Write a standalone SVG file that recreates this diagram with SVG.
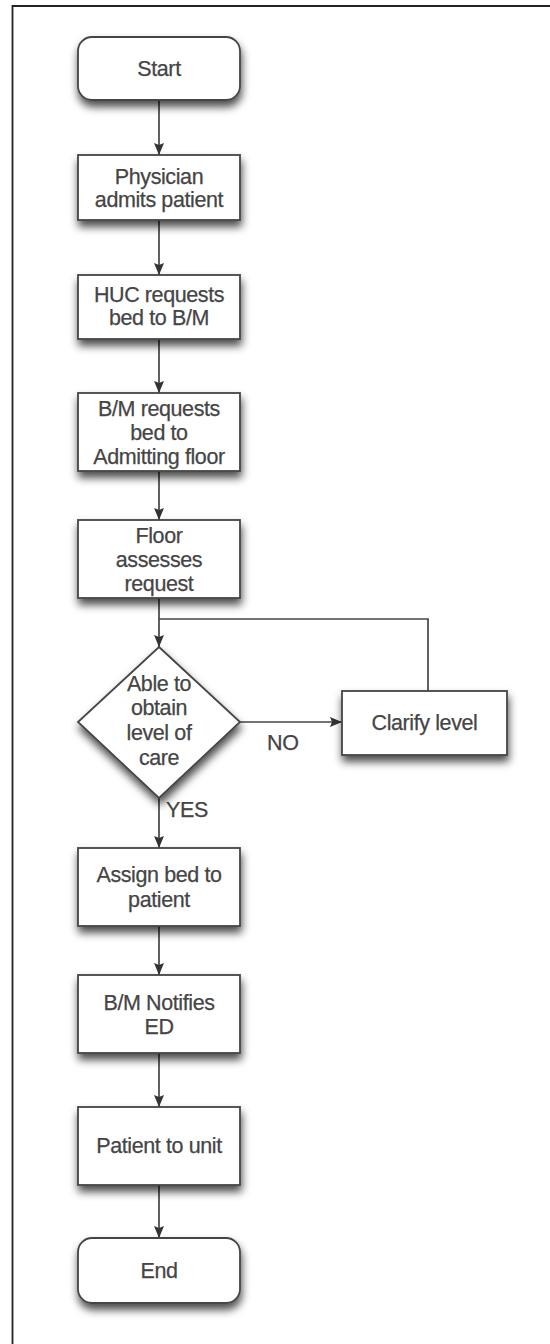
<svg xmlns="http://www.w3.org/2000/svg" width="550" height="1344" viewBox="0 0 550 1344">
<style>
.box{fill:#fff;stroke:#454545;stroke-width:1.8;filter:url(#sh)}
.t{font-family:"Liberation Sans",Arial,sans-serif;font-size:21.5px;fill:#454545;text-anchor:middle;letter-spacing:-0.4px;stroke:#454545;stroke-width:0.25}
.lbl{font-family:"Liberation Sans",Arial,sans-serif;font-size:21.5px;fill:#454545;letter-spacing:-0.4px;stroke:#454545;stroke-width:0.25}
.c{fill:none;stroke:#454545;stroke-width:1.7}
</style>
<defs>
<filter id="sh" x="-20%" y="-20%" width="140%" height="160%">
<feDropShadow dx="1" dy="6" stdDeviation="4" flood-color="#000" flood-opacity="0.7"/>
</filter>
<marker id="ar" viewBox="0 0 12 10" refX="12" refY="5" markerWidth="13" markerHeight="10" markerUnits="userSpaceOnUse" orient="auto">
<path d="M0,0 L12,5 L0,10 L2,5 Z" fill="#333"/>
</marker>
</defs>
<rect width="550" height="1344" fill="#fff"/>
<path d="M12.5,1344 V6 H550" fill="none" stroke="#222" stroke-width="1.8"/>

<g id="connectors">
<line class="c" x1="159" y1="100" x2="159" y2="155" marker-end="url(#ar)"/>
<line class="c" x1="159" y1="220" x2="159" y2="275" marker-end="url(#ar)"/>
<line class="c" x1="159" y1="339" x2="159" y2="393" marker-end="url(#ar)"/>
<line class="c" x1="159" y1="471" x2="159" y2="520" marker-end="url(#ar)"/>
<line class="c" x1="159" y1="598" x2="159" y2="647" marker-end="url(#ar)"/>
<polyline class="c" points="428,691 428,619 159,619"/>
<line class="c" x1="240" y1="722" x2="342" y2="722" marker-end="url(#ar)"/>
<line class="c" x1="159" y1="798" x2="159" y2="848" marker-end="url(#ar)"/>
<line class="c" x1="159" y1="926" x2="159" y2="975" marker-end="url(#ar)"/>
<line class="c" x1="159" y1="1053" x2="159" y2="1107" marker-end="url(#ar)"/>
<line class="c" x1="159" y1="1185" x2="159" y2="1238" marker-end="url(#ar)"/>
<text class="lbl" x="267" y="750">NO</text>
<text class="lbl" x="166" y="817">YES</text>
</g>

<g id="start">
<rect class="box" x="78" y="37" width="162" height="63" rx="14"/>
<text class="t" x="159" y="76">Start</text>
</g>
<g id="physician">
<rect class="box" x="78" y="155" width="162" height="65"/>
<text class="t" x="159" y="184">Physician</text>
<text class="t" x="159" y="207">admits patient</text>
</g>
<g id="huc">
<rect class="box" x="78" y="275" width="162" height="64"/>
<text class="t" x="159" y="302">HUC requests</text>
<text class="t" x="159" y="325">bed to B/M</text>
</g>
<g id="bm-requests">
<rect class="box" x="78" y="393" width="162" height="78"/>
<text class="t" x="159" y="416">B/M requests</text>
<text class="t" x="159" y="440">bed to</text>
<text class="t" x="159" y="464">Admitting floor</text>
</g>
<g id="floor">
<rect class="box" x="78" y="520" width="162" height="78"/>
<text class="t" x="159" y="543">Floor</text>
<text class="t" x="159" y="567">assesses</text>
<text class="t" x="159" y="591">request</text>
</g>
<g id="decision">
<polygon class="box" points="159,647 240,722 159,798 78,722"/>
<text class="t" x="159" y="691">Able to</text>
<text class="t" x="159" y="715">obtain</text>
<text class="t" x="159" y="740">level of</text>
<text class="t" x="159" y="765">care</text>
</g>
<g id="clarify">
<rect class="box" x="342" y="691" width="165" height="64"/>
<text class="t" x="424.5" y="730">Clarify level</text>
</g>
<g id="assign">
<rect class="box" x="78" y="848" width="162" height="78"/>
<text class="t" x="159" y="882">Assign bed to</text>
<text class="t" x="159" y="907">patient</text>
</g>
<g id="notifies">
<rect class="box" x="78" y="975" width="162" height="78"/>
<text class="t" x="159" y="1010">B/M Notifies</text>
<text class="t" x="159" y="1034">ED</text>
</g>
<g id="patient-unit">
<rect class="box" x="78" y="1107" width="162" height="78"/>
<text class="t" x="159" y="1153">Patient to unit</text>
</g>
<g id="end">
<rect class="box" x="78" y="1238" width="162" height="65" rx="14"/>
<text class="t" x="159" y="1278">End</text>
</g>
</svg>
